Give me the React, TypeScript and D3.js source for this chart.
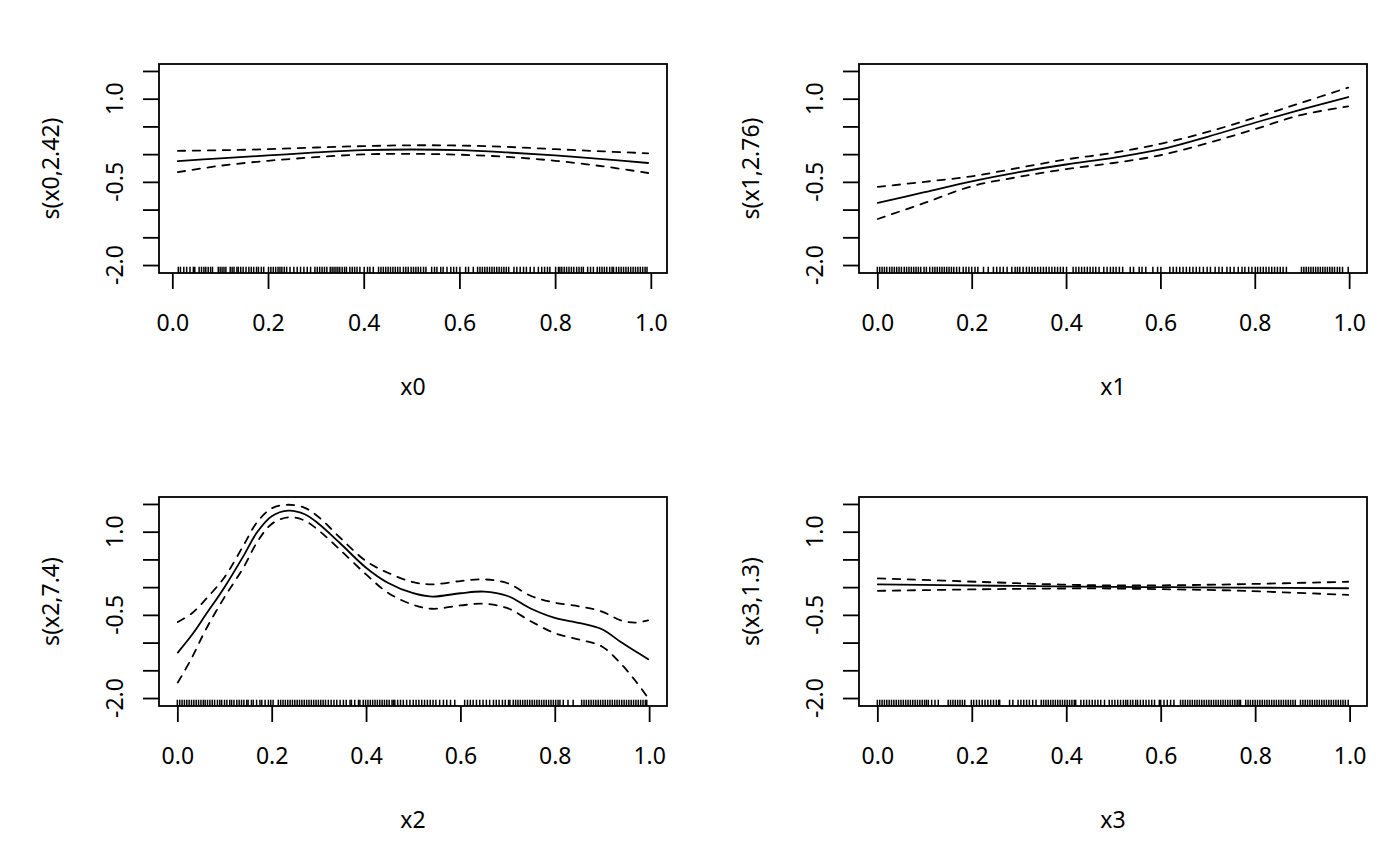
import { useRef, useEffect } from "react";
import * as d3 from "d3";

// Shared y range of all smooths (before R's 4% expansion)
const yRange: [number, number] = [-2.004, 1.486];
const yTicks = [-2.0, -1.5, -1.0, -0.5, 0.0, 0.5, 1.0, 1.5];
const yTickLabels = [-2.0, -0.5, 1.0];
const xTicks = [0.0, 0.2, 0.4, 0.6, 0.8, 1.0];

// s(x0, 2.42)
const x0Range: [number, number] = [0.0115, 0.9945];
const x0Grid = [0.0115, 0.1, 0.2, 0.3, 0.4, 0.5, 0.6, 0.7, 0.8, 0.9, 0.9945];
const x0Fit = [-0.125, -0.075, -0.024, 0.03, 0.072, 0.084, 0.072, 0.03, -0.024, -0.09, -0.16];
const x0Upper = [0.06, 0.07, 0.09, 0.12, 0.145, 0.16, 0.155, 0.13, 0.09, 0.05, 0.015];
const x0Lower = [-0.325, -0.21, -0.12, -0.055, -0.005, 0.005, -0.01, -0.05, -0.12, -0.22, -0.34];
const x0Rug = [
  0.0125, 0.017, 0.024, 0.03, 0.037, 0.044, 0.047, 0.056, 0.061, 0.066, 0.07, 0.075, 0.08, 0.084,
  0.096, 0.1, 0.104, 0.108, 0.112, 0.121, 0.125, 0.129, 0.135, 0.138, 0.143, 0.148, 0.154,
  0.16, 0.165, 0.17, 0.176, 0.18, 0.186, 0.191, 0.201, 0.206, 0.211, 0.216, 0.221, 0.225,
  0.229, 0.234, 0.239, 0.246, 0.254, 0.261, 0.268, 0.275, 0.282, 0.289, 0.298, 0.303, 0.308,
  0.313, 0.318, 0.323, 0.33, 0.334, 0.338, 0.342, 0.346, 0.35, 0.355, 0.36, 0.364, 0.371,
  0.376, 0.381, 0.386, 0.392, 0.401, 0.408, 0.413, 0.42, 0.431, 0.436, 0.441, 0.446, 0.451,
  0.456, 0.461, 0.466, 0.471, 0.476, 0.483, 0.488, 0.493, 0.499, 0.504, 0.509, 0.514, 0.519,
  0.525, 0.53, 0.542, 0.548, 0.553, 0.561, 0.566, 0.574, 0.582, 0.588, 0.594, 0.601, 0.613,
  0.619, 0.629, 0.638, 0.643, 0.648, 0.653, 0.658, 0.663, 0.668, 0.673, 0.678, 0.683, 0.688,
  0.693, 0.698, 0.703, 0.714, 0.72, 0.727, 0.734, 0.74, 0.748, 0.756, 0.765, 0.772, 0.778,
  0.784, 0.789, 0.801, 0.807, 0.81, 0.814, 0.819, 0.824, 0.829, 0.834, 0.839, 0.845, 0.85,
  0.855, 0.859, 0.868, 0.874, 0.88, 0.888, 0.893, 0.898, 0.903, 0.908, 0.914, 0.919, 0.922,
  0.928, 0.933, 0.938, 0.943, 0.948, 0.953, 0.958, 0.963, 0.968, 0.973, 0.978, 0.983, 0.988, 0.992,
];

// s(x1, 2.76)
const x1Range: [number, number] = [0.001, 0.998];
const x1Grid = [0.001, 0.1, 0.2, 0.3, 0.4, 0.5, 0.6, 0.7, 0.8, 0.9, 0.998];
const x1Fit = [-0.88, -0.687, -0.49, -0.325, -0.187, -0.066, 0.084, 0.313, 0.566, 0.807, 1.03];
const x1Upper = [-0.59, -0.5, -0.4, -0.247, -0.096, 0.024, 0.187, 0.4, 0.657, 0.93, 1.2];
const x1Lower = [-1.17, -0.88, -0.58, -0.41, -0.27, -0.16, -0.02, 0.2, 0.45, 0.71, 0.86];
const x1Rug = [
  0.0, 0.005, 0.01, 0.015, 0.02, 0.026, 0.031, 0.036, 0.041, 0.046, 0.051, 0.057, 0.062, 0.067,
  0.072, 0.077, 0.082, 0.087, 0.092, 0.099, 0.104, 0.111, 0.117, 0.122, 0.127, 0.132, 0.137,
  0.142, 0.147, 0.152, 0.157, 0.162, 0.168, 0.174, 0.182, 0.188, 0.194, 0.2, 0.207, 0.213,
  0.225, 0.235, 0.246, 0.253, 0.26, 0.267, 0.275, 0.285, 0.292, 0.297, 0.302, 0.309, 0.316,
  0.322, 0.328, 0.334, 0.34, 0.346, 0.352, 0.358, 0.364, 0.37, 0.376, 0.382, 0.388, 0.394,
  0.401, 0.415, 0.421, 0.427, 0.433, 0.439, 0.445, 0.451, 0.457, 0.463, 0.47, 0.48, 0.487,
  0.494, 0.5, 0.506, 0.513, 0.52, 0.536, 0.543, 0.555, 0.561, 0.569, 0.584, 0.594, 0.601,
  0.62, 0.627, 0.634, 0.641, 0.648, 0.655, 0.662, 0.669, 0.676, 0.683, 0.691, 0.699, 0.706,
  0.716, 0.724, 0.731, 0.741, 0.748, 0.756, 0.765, 0.773, 0.779, 0.787, 0.794, 0.801, 0.806,
  0.812, 0.818, 0.824, 0.83, 0.836, 0.842, 0.848, 0.854, 0.86, 0.867, 0.899, 0.904, 0.909,
  0.914, 0.919, 0.924, 0.929, 0.934, 0.939, 0.944, 0.949, 0.954, 0.959, 0.964, 0.969, 0.975,
  0.98, 0.986, 0.998,
];

// s(x2, 7.4)
const x2Range: [number, number] = [0.001, 0.998];
const x2Grid = [
  0.001, 0.031, 0.06, 0.1, 0.14, 0.169, 0.2, 0.235, 0.27, 0.3, 0.344, 0.4, 0.446, 0.5, 0.54,
  0.6, 0.65, 0.7, 0.75, 0.8, 0.854, 0.9, 0.94, 0.97, 0.998,
];
const x2Fit = [
  -1.18, -0.86, -0.5, 0.0, 0.56, 0.99, 1.28, 1.38, 1.315, 1.14, 0.8, 0.35, 0.08, -0.11, -0.17,
  -0.11, -0.08, -0.16, -0.39, -0.555, -0.65, -0.76, -0.99, -1.15, -1.3,
];
const x2Upper = [
  -0.63, -0.47, -0.22, 0.18, 0.75, 1.17, 1.42, 1.486, 1.43, 1.26, 0.9, 0.47, 0.26, 0.09, 0.05,
  0.11, 0.14, 0.07, -0.16, -0.28, -0.35, -0.44, -0.6, -0.64, -0.6,
];
const x2Lower = [
  -1.72, -1.27, -0.77, -0.18, 0.35, 0.81, 1.14, 1.26, 1.2, 1.02, 0.68, 0.23, -0.1, -0.32, -0.39,
  -0.33, -0.3, -0.38, -0.62, -0.83, -0.95, -1.07, -1.38, -1.68, -2.0,
];
const x2Rug = [
  0.0, 0.005, 0.01, 0.015, 0.02, 0.025, 0.03, 0.035, 0.04, 0.045, 0.05, 0.055, 0.059, 0.064,
  0.069, 0.074, 0.079, 0.085, 0.09, 0.094, 0.1, 0.105, 0.111, 0.115, 0.12, 0.126, 0.131, 0.136,
  0.141, 0.147, 0.15, 0.157, 0.161, 0.168, 0.175, 0.179, 0.186, 0.193, 0.198, 0.203, 0.214,
  0.219, 0.224, 0.229, 0.234, 0.239, 0.244, 0.249, 0.254, 0.259, 0.264, 0.269, 0.274, 0.279,
  0.284, 0.289, 0.294, 0.299, 0.304, 0.309, 0.314, 0.32, 0.326, 0.332, 0.338, 0.345, 0.352,
  0.358, 0.366, 0.369, 0.376, 0.384, 0.387, 0.394, 0.399, 0.404, 0.409, 0.414, 0.419, 0.424,
  0.429, 0.434, 0.439, 0.444, 0.449, 0.455, 0.458, 0.461, 0.467, 0.473, 0.479, 0.486, 0.493,
  0.5, 0.506, 0.512, 0.518, 0.524, 0.53, 0.536, 0.542, 0.548, 0.556, 0.564, 0.571, 0.579,
  0.588, 0.609, 0.615, 0.621, 0.627, 0.634, 0.641, 0.648, 0.655, 0.662, 0.67, 0.676, 0.682,
  0.689, 0.695, 0.702, 0.705, 0.712, 0.717, 0.722, 0.727, 0.732, 0.737, 0.742, 0.747, 0.752,
  0.757, 0.762, 0.767, 0.772, 0.777, 0.782, 0.787, 0.792, 0.797, 0.802, 0.807, 0.811, 0.818,
  0.828, 0.839, 0.857, 0.862, 0.867, 0.872, 0.877, 0.882, 0.887, 0.892, 0.897, 0.902, 0.907,
  0.912, 0.917, 0.922, 0.927, 0.932, 0.937, 0.942, 0.947, 0.952, 0.957, 0.962, 0.967, 0.972,
  0.977, 0.982, 0.987, 0.992, 0.995,
];

// s(x3, 1.3)
const x3Range: [number, number] = [0.001, 0.997];
const x3Grid = [0.001, 0.25, 0.375, 0.5, 0.625, 0.75, 0.997];
const x3Fit = [0.05, 0.025, 0.015, 0.005, -0.001, -0.007, -0.02];
const x3Upper = [0.158, 0.085, 0.05, 0.03, 0.035, 0.05, 0.097];
const x3Lower = [-0.067, -0.035, -0.025, -0.025, -0.04, -0.06, -0.14];
const x3Rug = [
  0.0, 0.005, 0.01, 0.015, 0.02, 0.025, 0.03, 0.035, 0.04, 0.045, 0.05, 0.055, 0.06, 0.065,
  0.07, 0.075, 0.08, 0.085, 0.09, 0.095, 0.1, 0.104, 0.108, 0.115, 0.122, 0.129, 0.15, 0.155,
  0.16, 0.165, 0.17, 0.175, 0.18, 0.185, 0.199, 0.204, 0.21, 0.216, 0.222, 0.228, 0.234, 0.24,
  0.246, 0.252, 0.257, 0.259, 0.28, 0.287, 0.298, 0.304, 0.31, 0.316, 0.322, 0.329, 0.336,
  0.347, 0.352, 0.357, 0.362, 0.367, 0.372, 0.377, 0.382, 0.387, 0.392, 0.397, 0.402, 0.407,
  0.412, 0.417, 0.42, 0.431, 0.437, 0.443, 0.449, 0.455, 0.461, 0.467, 0.473, 0.481, 0.491,
  0.497, 0.503, 0.509, 0.515, 0.521, 0.526, 0.53, 0.536, 0.541, 0.547, 0.551, 0.557, 0.563,
  0.569, 0.575, 0.581, 0.587, 0.597, 0.6, 0.607, 0.614, 0.621, 0.628, 0.642, 0.647, 0.652,
  0.657, 0.662, 0.667, 0.672, 0.677, 0.682, 0.687, 0.692, 0.697, 0.702, 0.707, 0.712, 0.717,
  0.722, 0.727, 0.732, 0.737, 0.742, 0.747, 0.752, 0.757, 0.762, 0.766, 0.769, 0.78, 0.785,
  0.79, 0.795, 0.8, 0.805, 0.81, 0.815, 0.82, 0.825, 0.83, 0.835, 0.84, 0.845, 0.85, 0.855,
  0.86, 0.865, 0.87, 0.875, 0.88, 0.885, 0.896, 0.901, 0.906, 0.911, 0.916, 0.921, 0.926,
  0.931, 0.936, 0.941, 0.946, 0.951, 0.956, 0.961, 0.966, 0.971, 0.976, 0.981, 0.986, 0.991, 0.997,
];

type Smooth = {
  xLabel: string;
  yLabel: string;
  xRange: [number, number];
  grid: number[];
  fit: number[];
  upper: number[];
  lower: number[];
  rug: number[];
};

const panels: Smooth[] = [
  { xLabel: "x0", yLabel: "s(x0,2.42)", xRange: x0Range, grid: x0Grid, fit: x0Fit, upper: x0Upper, lower: x0Lower, rug: x0Rug },
  { xLabel: "x1", yLabel: "s(x1,2.76)", xRange: x1Range, grid: x1Grid, fit: x1Fit, upper: x1Upper, lower: x1Lower, rug: x1Rug },
  { xLabel: "x2", yLabel: "s(x2,7.4)", xRange: x2Range, grid: x2Grid, fit: x2Fit, upper: x2Upper, lower: x2Lower, rug: x2Rug },
  { xLabel: "x3", yLabel: "s(x3,1.3)", xRange: x3Range, grid: x3Grid, fit: x3Fit, upper: x3Upper, lower: x3Lower, rug: x3Rug },
];

const width = 1400;
const height = 866;
const cellW = 700;
const cellH = 433;
const box = { left: 159, right: 667, top: 64, bottom: 273 };
const tickLen = 16;
const fontSize = 23;
const font = "'Noto Sans', 'Open Sans', sans-serif";
const lw = 1.8;

// R-style axis limits: data range padded by 4% each side
function expand([lo, hi]: [number, number]): [number, number] {
  const d = (hi - lo) * 0.04;
  return [lo - d, hi + d];
}

// R prints a plain hyphen for negative numbers
const fmt = (v: number) => v.toFixed(1);

export default function App() {
  const ref = useRef<SVGSVGElement>(null);

  useEffect(() => {
    if (!ref.current) return;
    const svg = d3.select(ref.current);
    svg.selectAll("*").remove();

    const yScale = d3
      .scaleLinear()
      .domain(expand(yRange))
      .range([box.bottom, box.top]);

    panels.forEach((p, i) => {
      const g = svg
        .append("g")
        .attr("transform", `translate(${(i % 2) * cellW}, ${Math.floor(i / 2) * cellH})`);

      const xScale = d3
        .scaleLinear()
        .domain(expand(p.xRange))
        .range([box.left, box.right]);

      // Fit and +-2 se bands
      const line = d3
        .line<number>()
        .x((_, j) => xScale(p.grid[j]))
        .y((d) => yScale(d))
        .curve(d3.curveCatmullRom);

      const series: [number[], boolean][] = [
        [p.fit, false],
        [p.upper, true],
        [p.lower, true],
      ];
      series.forEach(([vals, dashed]) => {
        g.append("path")
          .datum(vals)
          .attr("fill", "none")
          .attr("stroke", "#000")
          .attr("stroke-width", lw)
          .attr("stroke-linecap", "round")
          .attr("stroke-dasharray", dashed ? "7.5,7.5" : null)
          .attr("d", line);
      });

      // Rug along the bottom
      const rugLen = 0.03 * (box.bottom - box.top);
      g.append("g")
        .selectAll("line")
        .data(p.rug)
        .join("line")
        .attr("x1", (d) => xScale(d))
        .attr("x2", (d) => xScale(d))
        .attr("y1", box.bottom)
        .attr("y2", box.bottom - rugLen)
        .attr("stroke", "#000")
        .attr("stroke-width", 1.5);

      // Box
      g.append("rect")
        .attr("x", box.left)
        .attr("y", box.top)
        .attr("width", box.right - box.left)
        .attr("height", box.bottom - box.top)
        .attr("fill", "none")
        .attr("stroke", "#000")
        .attr("stroke-width", lw);

      // X axis
      const xAxis = g
        .append("g")
        .attr("transform", `translate(0, ${box.bottom})`)
        .call(
          d3
            .axisBottom(xScale)
            .tickValues(xTicks)
            .tickFormat((d) => fmt(+d))
            .tickSize(tickLen)
            .tickSizeOuter(0)
            .tickPadding(25.5),
        );
      xAxis.select(".domain").remove();
      xAxis.selectAll("line").attr("stroke-width", lw);
      xAxis
        .selectAll("text")
        .attr("font-size", fontSize)
        .attr("font-family", font)
        .attr("fill", "#000");

      // Y axis: ticks only, labels drawn rotated
      const yAxis = g
        .append("g")
        .attr("transform", `translate(${box.left}, 0)`)
        .call(
          d3
            .axisLeft(yScale)
            .tickValues(yTicks)
            .tickFormat(() => "")
            .tickSize(tickLen)
            .tickSizeOuter(0),
        );
      yAxis.select(".domain").remove();
      yAxis.selectAll("line").attr("stroke-width", lw);

      g.append("g")
        .selectAll("text")
        .data(yTickLabels)
        .join("text")
        .attr("transform", (d) => `translate(123, ${yScale(d)}) rotate(-90)`)
        .attr("text-anchor", "middle")
        .attr("font-size", fontSize)
        .attr("font-family", font)
        .text((d) => fmt(d));

      // Axis titles
      g.append("text")
        .attr("x", (box.left + box.right) / 2)
        .attr("y", 395)
        .attr("text-anchor", "middle")
        .attr("font-size", fontSize)
        .attr("font-family", font)
        .text(p.xLabel);

      g.append("text")
        .attr("transform", `translate(59, ${(box.top + box.bottom) / 2}) rotate(-90)`)
        .attr("text-anchor", "middle")
        .attr("font-size", fontSize)
        .attr("font-family", font)
        .text(p.yLabel);
    });
  }, []);

  return (
    <svg
      ref={ref}
      width={width}
      height={height}
      style={{ position: "absolute", left: 0, top: 0, background: "#fff" }}
    />
  );
}
